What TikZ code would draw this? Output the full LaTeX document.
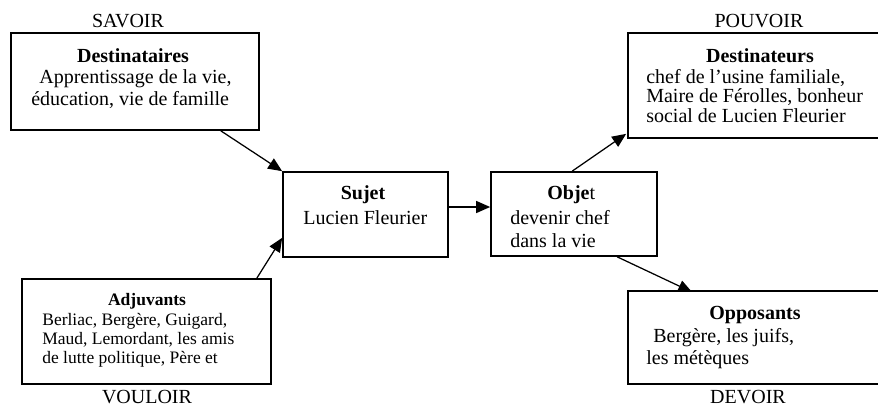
\documentclass[tikz,border=0pt]{standalone}
\usepackage{fontspec}
\setmainfont{Liberation Serif}
\usetikzlibrary{arrows.meta,backgrounds}
\begin{document}
\begin{tikzpicture}[x=0.6pt,y=-0.6pt,
  box/.style={draw,line width=1pt,fill=white,rectangle,inner sep=0pt},
  conn/.style={line width=0.75pt,-{Triangle[length=8.4pt,width=7.2pt]}},
  txt/.style={inner sep=0pt,anchor=base west,font=\fontsize{12}{14}\selectfont},
  ttl/.style={inner sep=0pt,anchor=base,font=\fontsize{12}{14}\selectfont\bfseries},
  stxt/.style={inner sep=0pt,anchor=base west,font=\fontsize{10.5}{12}\selectfont},
  sttl/.style={inner sep=0pt,anchor=base,font=\fontsize{10.5}{12}\selectfont\bfseries},
  lbl/.style={inner sep=0pt,anchor=base,font=\fontsize{12}{14}\selectfont}]
\useasboundingbox (0,0) rectangle (878,408);
\clip (0,0) rectangle (878,408);

% actant boxes
\node[box,minimum width=148.8pt,minimum height=58.2pt] (dest)  at (135,81.5)  {};
\node[box,minimum width=99pt,   minimum height=51pt]   (sujet) at (365.5,214.5) {};
\node[box,minimum width=99.6pt, minimum height=50.4pt] (objet) at (574,214)   {};
\node[box,minimum width=163.2pt,minimum height=63pt]   (destr) at (764,85.5)  {};
\node[box,minimum width=149.4pt,minimum height=63pt]   (adj)   at (146.5,331.5) {};
\node[box,minimum width=163.2pt,minimum height=55.8pt] (opp)   at (764,337.5) {};

% axis labels
\node[lbl] (savoir)  at (128,27)  {SAVOIR};
\node[lbl] (pouvoir) at (759,27)  {POUVOIR};
\node[lbl] (vouloir) at (147,403) {VOULOIR};
\node[lbl] (devoir)  at (748,403) {DEVOIR};

% Destinataires
\node[ttl] (destT)  at (133,62)  {Destinataires};
\node[txt] (destL1) at (39,83)   {Apprentissage de la vie,};
\node[txt] (destL2) at (31,105)  {éducation, vie de famille};

% Sujet
\node[ttl] (sujT)  at (363,199) {Sujet};
\node[txt] (sujL1) at (303,224) {Lucien Fleurier};

% Objet
\node[txt] (objT)  at (547,199) {\textbf{Obje}t};
\node[txt] (objL1) at (510,224) {devenir chef};
\node[txt] (objL2) at (510,247) {dans la vie};

% Destinateurs
\node[ttl] (dstrT)  at (760,62)  {Destinateurs};
\node[txt] (dstrL1) at (646,83)  {chef de l’usine familiale,};
\node[txt] (dstrL2) at (646,102) {Maire de Férolles, bonheur};
\node[txt] (dstrL3) at (646,122) {social de Lucien Fleurier};

% Adjuvants
\node[sttl] (adjT)  at (147,305) {Adjuvants};
\node[stxt] (adjL1) at (42,325)  {Berliac, Bergère, Guigard,};
\node[stxt] (adjL2) at (42,344)  {Maud, Lemordant, les amis};
\node[stxt] (adjL3) at (42,363)  {de lutte politique, Père et};

% Opposants
\node[ttl] (oppT)  at (755,319) {Opposants};
\node[txt] (oppL1) at (653,342) {Bergère, les juifs,};
\node[txt] (oppL2) at (646,364) {les métèques};

% connectors, kept behind the boxes
\begin{pgfonlayer}{background}
  \draw[conn] ([xshift=-23.4pt]dest.south east) -- (sujet.north west);
  \draw[conn] ([xshift=-9pt]adj.north east) -- ([yshift=12pt]sujet.south west);
  \coordinate (so) at ([yshift=4.5pt]sujet.east);
  \draw[conn] (so) -- (so -| objet.west);
  \draw[conn] ([xshift=49.2pt]objet.north west) -- ([xshift=-0.6pt,yshift=3pt]destr.south west);
  \draw[conn] ([xshift=76.2pt]objet.south west) -- ([xshift=39pt,yshift=-1.2pt]opp.north west);
\end{pgfonlayer}
\end{tikzpicture}
\end{document}
